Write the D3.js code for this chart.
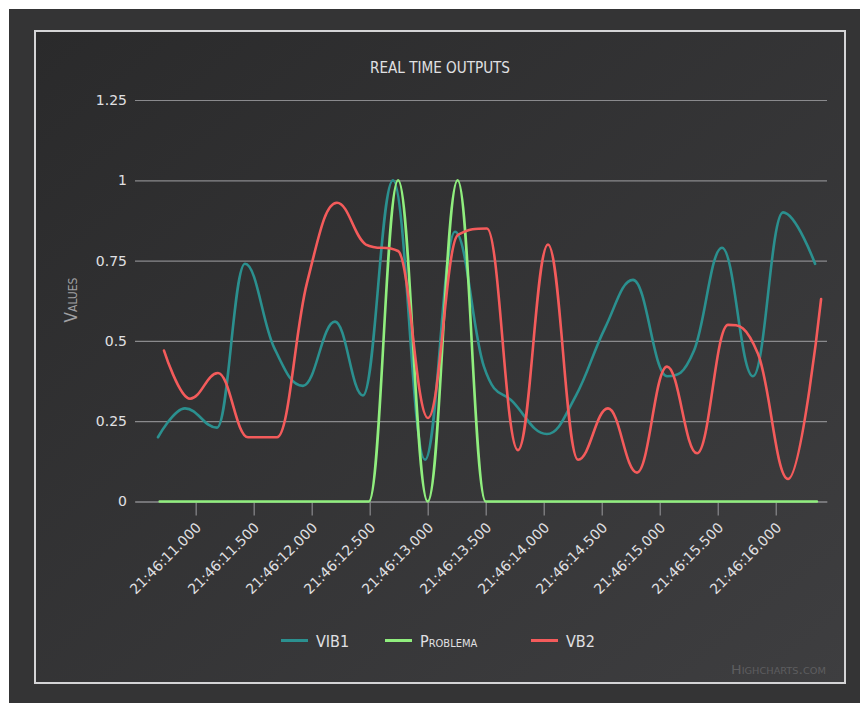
<!DOCTYPE html>
<html>
<head>
<meta charset="utf-8">
<script src="https://cdn.jsdelivr.net/npm/d3@7/dist/d3.min.js"></script>
<style>
  html, body { margin: 0; padding: 0; background: #ffffff; }
  svg { display: block; }
</style>
</head>
<body>
<svg id="chart" width="860" height="703"></svg>
<script>
// ---- data -------------------------------------------------------------
const TITLE = "REAL TIME OUTPUTS";
const Y_TITLE = "Values";
const Y_TICKS = [0, 0.25, 0.5, 0.75, 1, 1.25];
const Y_TICK_LABELS = ["0", "0.25", "0.5", "0.75", "1", "1.25"];
const X_TICK_LABELS = ["21:46:11.000", "21:46:11.500", "21:46:12.000", "21:46:12.500",
  "21:46:13.000", "21:46:13.500", "21:46:14.000", "21:46:14.500", "21:46:15.000",
  "21:46:15.500", "21:46:16.000"];
const X_RANGE = ["21:46:10.477", "21:46:16.442"];

const VIB1_TIMES = ["21:46:10.675", "21:46:10.908", "21:46:11.184", "21:46:11.425", "21:46:11.675",
  "21:46:11.925", "21:46:12.201", "21:46:12.442", "21:46:12.701", "21:46:12.977", "21:46:13.235",
  "21:46:13.485", "21:46:13.735", "21:46:14.028", "21:46:14.278", "21:46:14.528", "21:46:14.770",
  "21:46:15.063", "21:46:15.296", "21:46:15.537", "21:46:15.804", "21:46:16.063", "21:46:16.339"];
const VIB1_VALUES = [0.20, 0.29, 0.23, 0.74, 0.48, 0.36, 0.56, 0.33, 1.00, 0.13, 0.84, 0.42,
  0.31, 0.21, 0.33, 0.54, 0.69, 0.39, 0.47, 0.79, 0.39, 0.90, 0.74];

const PROBLEMA_TIMES = ["21:46:10.690", "21:46:10.948", "21:46:11.205", "21:46:11.463", "21:46:11.720",
  "21:46:11.978", "21:46:12.235", "21:46:12.493", "21:46:12.745", "21:46:13.000", "21:46:13.258",
  "21:46:13.500", "21:46:13.780", "21:46:14.038", "21:46:14.295", "21:46:14.553", "21:46:14.810",
  "21:46:15.068", "21:46:15.325", "21:46:15.583", "21:46:15.840", "21:46:16.098", "21:46:16.355"];
const PROBLEMA_VALUES = [0, 0, 0, 0, 0, 0, 0, 0, 1, 0, 1, 0, 0, 0, 0, 0, 0, 0, 0, 0, 0, 0, 0];

const VB2_TIMES = ["21:46:10.727", "21:46:10.951", "21:46:11.192", "21:46:11.451", "21:46:11.701",
  "21:46:11.959", "21:46:12.218", "21:46:12.468", "21:46:12.744", "21:46:13.003", "21:46:13.261",
  "21:46:13.511", "21:46:13.778", "21:46:14.037", "21:46:14.296", "21:46:14.554", "21:46:14.804",
  "21:46:15.063", "21:46:15.322", "21:46:15.589", "21:46:15.847", "21:46:16.106", "21:46:16.391"];
const VB2_VALUES = [0.47, 0.32, 0.40, 0.20, 0.20, 0.68, 0.93, 0.80, 0.78, 0.26, 0.83, 0.85,
  0.16, 0.80, 0.13, 0.29, 0.09, 0.42, 0.15, 0.55, 0.46, 0.07, 0.63];

const SERIES_NAMES = ["VIB1", "Problema", "VB2"];
const SERIES_COLORS = ["#2b908f", "#90ee7e", "#f45b5b"];

// ---- layout -----------------------------------------------------------
const plot = { left: 135, right: 827, top: 100, bottom: 501.5 };
const condensed = "'DejaVu Sans Condensed', 'Liberation Sans Narrow', 'DejaVu Sans', sans-serif";
const plain = "'DejaVu Sans', sans-serif";

const parse = d3.timeParse("%H:%M:%S.%L");
const series = [
  { name: SERIES_NAMES[0], color: SERIES_COLORS[0], times: VIB1_TIMES, values: VIB1_VALUES },
  { name: SERIES_NAMES[1], color: SERIES_COLORS[1], times: PROBLEMA_TIMES, values: PROBLEMA_VALUES },
  { name: SERIES_NAMES[2], color: SERIES_COLORS[2], times: VB2_TIMES, values: VB2_VALUES }
].map(s => ({ ...s, points: s.times.map((t, i) => ({ t: parse(t), v: s.values[i] })) }));

const x = d3.scaleTime().domain(X_RANGE.map(parse)).range([plot.left, plot.right]);
const y = d3.scaleLinear().domain([0, 1.25]).range([plot.bottom, plot.top]);

// Spline in the style of Highcharts: control points pulled 1/2.5 of the way
// toward neighbours, aligned through the point and clamped at local extremes.
function SmoothSpline(context) { this._context = context; }
SmoothSpline.prototype = {
  areaStart() {}, areaEnd() {},
  lineStart() { this._x = []; this._y = []; },
  point(px, py) { this._x.push(+px); this._y.push(+py); },
  lineEnd() {
    const X = this._x, Y = this._y, n = X.length, c = this._context;
    if (!n) return;
    c.moveTo(X[0], Y[0]);
    const sm = 1.5, den = sm + 1;
    let prevR = [X[0], Y[0]];
    for (let i = 1; i < n; i++) {
      let lx = X[i], ly = Y[i], rx = X[i], ry = Y[i];
      if (i < n - 1) {
        const px = X[i - 1], py = Y[i - 1], cx = X[i], cy = Y[i], nx = X[i + 1], ny = Y[i + 1];
        lx = (sm * cx + px) / den; ly = (sm * cy + py) / den;
        rx = (sm * cx + nx) / den; ry = (sm * cy + ny) / den;
        if (rx !== lx) {
          const corr = ((ry - ly) * (rx - cx)) / (rx - lx) + cy - ry;
          ly += corr; ry += corr;
        }
        if (ly > py && ly > cy) { ly = Math.max(py, cy); ry = 2 * cy - ly; }
        else if (ly < py && ly < cy) { ly = Math.min(py, cy); ry = 2 * cy - ly; }
        if (ry > ny && ry > cy) { ry = Math.max(ny, cy); ly = 2 * cy - ry; }
        else if (ry < ny && ry < cy) { ry = Math.min(ny, cy); ly = 2 * cy - ry; }
      }
      c.bezierCurveTo(prevR[0], prevR[1], lx, ly, X[i], Y[i]);
      prevR = [rx, ry];
    }
  }
};
const smoothSpline = context => new SmoothSpline(context);

// ---- drawing ----------------------------------------------------------
const svg = d3.select("#chart");
const defs = svg.append("defs");
const grad = defs.append("linearGradient").attr("id", "bg")
  .attr("x1", 0).attr("y1", 0).attr("x2", 1).attr("y2", 1);
grad.append("stop").attr("offset", 0).attr("stop-color", "#2a2a2b");
grad.append("stop").attr("offset", 1).attr("stop-color", "#3e3e40");

svg.append("rect").attr("x", 9).attr("y", 9).attr("width", 851).attr("height", 694)
  .attr("fill", "#343435");
svg.append("rect").attr("x", 35).attr("y", 31).attr("width", 810).attr("height", 652)
  .attr("fill", "url(#bg)").attr("stroke", "#d4d4d6").attr("stroke-width", 2);

// title
svg.append("text").attr("x", 440).attr("y", 73).attr("text-anchor", "middle")
  .attr("font-family", condensed).attr("font-size", 16).attr("fill", "#E0E0E3")
  .attr("textLength", 140).attr("lengthAdjust", "spacingAndGlyphs")
  .text(TITLE);

// y axis with grid lines
const yAxis = d3.axisLeft(y).tickValues(Y_TICKS)
  .tickFormat((d, i) => Y_TICK_LABELS[i])
  .tickSize(-(plot.right - plot.left)).tickPadding(8);
const gy = svg.append("g").attr("transform", `translate(${plot.left},0)`).call(yAxis);
gy.select(".domain").remove();
gy.selectAll(".tick line").attr("stroke", "#8a8a8d").attr("stroke-width", 1.2);
gy.selectAll(".tick text").attr("font-family", plain).attr("font-size", 14)
  .attr("fill", "#E0E0E3");

svg.append("text").attr("transform", `translate(77,300) rotate(-90)`)
  .attr("text-anchor", "middle").attr("font-family", condensed).attr("font-size", 17)
  .attr("font-variant", "small-caps").attr("fill", "#A0A0A3").text(Y_TITLE);

// x axis
const xTicks = X_TICK_LABELS.map(parse);
const xAxis = d3.axisBottom(x).tickValues(xTicks)
  .tickFormat((d, i) => X_TICK_LABELS[i]).tickSize(14).tickSizeOuter(0);
const gx = svg.append("g").attr("transform", `translate(0,${plot.bottom})`).call(xAxis);
gx.select(".domain").attr("stroke", "#8a8a8d").attr("stroke-width", 1.2);
gx.selectAll(".tick line").attr("stroke", "#8a8a8d").attr("stroke-width", 1.2);
gx.selectAll(".tick text")
  .attr("font-family", plain).attr("font-size", 14).attr("fill", "#E0E0E3")
  .attr("text-anchor", "end").attr("dy", null).attr("y", null)
  .attr("transform", "translate(6,27) rotate(-45)");

// series
const line = d3.line().x(d => x(d.t)).y(d => y(d.v)).curve(smoothSpline);
const gs = svg.append("g");
series.forEach(s => {
  gs.append("path").datum(s.points).attr("d", line)
    .attr("fill", "none").attr("stroke", s.color).attr("stroke-width", 2.6)
    .attr("stroke-linejoin", "round").attr("stroke-linecap", "round");
});

// legend
const legendX = [281, 385, 531];
const lg = svg.append("g");
series.forEach((s, i) => {
  lg.append("line").attr("x1", legendX[i]).attr("x2", legendX[i] + 27)
    .attr("y1", 640.5).attr("y2", 640.5).attr("stroke", s.color).attr("stroke-width", 3);
  lg.append("text").attr("x", legendX[i] + 35).attr("y", 647)
    .attr("font-family", condensed).attr("font-size", 16).attr("font-variant", "small-caps")
    .attr("fill", "#E0E0E3").text(s.name);
});

// credits
svg.append("text").attr("x", 826).attr("y", 674).attr("text-anchor", "end")
  .attr("font-family", condensed).attr("font-size", 13).attr("font-variant", "small-caps")
  .attr("textLength", 95).attr("lengthAdjust", "spacingAndGlyphs")
  .attr("fill", "#5e5e60").text("Highcharts.com");
</script>
</body>
</html>
